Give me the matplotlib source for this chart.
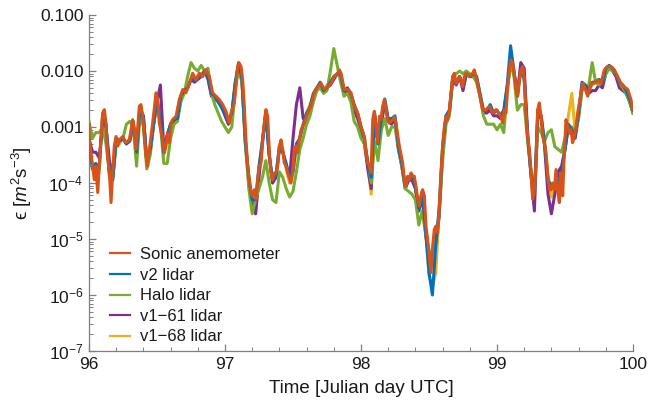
import numpy as np
import matplotlib
matplotlib.use("Agg")
import matplotlib.pyplot as plt
from matplotlib.ticker import FixedLocator, LogLocator, NullFormatter, FixedFormatter

plt.rcParams['font.family'] = ['Liberation Sans', 'DejaVu Sans']
plt.rcParams['mathtext.fontset'] = 'custom'
plt.rcParams['mathtext.rm'] = 'Liberation Sans'
plt.rcParams['mathtext.it'] = 'Liberation Sans:italic'
plt.rcParams['mathtext.sf'] = 'Liberation Sans'

# ---------------- data (log10 of dissipation rate, m^2 s^-3) ----------------
sonic_time = [
    96.000, 96.002, 96.027, 96.039, 96.051, 96.064, 96.076, 96.088, 96.100, 96.113,
    96.125, 96.137, 96.150, 96.162, 96.174, 96.186, 96.199, 96.211, 96.223, 96.248,
    96.272, 96.297, 96.321, 96.333, 96.346, 96.370, 96.382, 96.395, 96.419, 96.431,
    96.444, 96.468, 96.493, 96.505, 96.517, 96.542, 96.554, 96.566, 96.578, 96.591,
    96.603, 96.615, 96.640, 96.664, 96.689, 96.713, 96.738, 96.762, 96.787, 96.811,
    96.836, 96.860, 96.885, 96.909, 96.934, 96.958, 96.983, 97.007, 97.032, 97.044,
    97.069, 97.081, 97.093, 97.105, 97.118, 97.130, 97.142, 97.154, 97.167, 97.179,
    97.191, 97.203, 97.216, 97.228, 97.240, 97.252, 97.265, 97.277, 97.289, 97.301,
    97.314, 97.326, 97.338, 97.350, 97.363, 97.375, 97.387, 97.400, 97.412, 97.424,
    97.436, 97.449, 97.461, 97.485, 97.498, 97.510, 97.522, 97.534, 97.547, 97.559,
    97.583, 97.608, 97.632, 97.657, 97.681, 97.706, 97.730, 97.755, 97.779, 97.804,
    97.828, 97.841, 97.853, 97.877, 97.902, 97.926, 97.951, 97.975, 98.000, 98.025,
    98.037, 98.049, 98.061, 98.074, 98.086, 98.098, 98.110, 98.123, 98.135, 98.147,
    98.159, 98.172, 98.184, 98.196, 98.208, 98.233, 98.245, 98.257, 98.282, 98.306,
    98.319, 98.331, 98.343, 98.355, 98.368, 98.380, 98.392, 98.404, 98.417, 98.429,
    98.441, 98.453, 98.466, 98.478, 98.490, 98.502, 98.515, 98.527, 98.539, 98.551,
    98.564, 98.576, 98.588, 98.600, 98.613, 98.625, 98.637, 98.650, 98.662, 98.674,
    98.686, 98.699, 98.711, 98.723, 98.735, 98.748, 98.760, 98.772, 98.797, 98.821,
    98.833, 98.846, 98.870, 98.895, 98.919, 98.944, 98.968, 98.993, 99.029, 99.042,
    99.054, 99.066, 99.078, 99.091, 99.103, 99.115, 99.127, 99.140, 99.152, 99.164,
    99.176, 99.189, 99.201, 99.213, 99.225, 99.238, 99.250, 99.262, 99.275, 99.287,
    99.299, 99.311, 99.324, 99.336, 99.348, 99.360, 99.373, 99.385, 99.397, 99.409,
    99.422, 99.434, 99.446, 99.458, 99.471, 99.483, 99.495, 99.507, 99.520, 99.532,
    99.544, 99.556, 99.569, 99.581, 99.593, 99.618, 99.630, 99.642, 99.667, 99.679,
    99.691, 99.716, 99.740, 99.765, 99.789, 99.814, 99.838, 99.863, 99.887, 99.912,
    99.936, 99.961, 99.985, 100.000,
]
sonic_log = [
    -2.95, -3.23, -3.70, -3.94, -3.70, -4.17, -3.70, -3.23, -2.75, -2.69,
    -2.93, -3.52, -3.82, -4.35, -3.82, -3.34, -3.17, -3.34, -3.23, -3.17,
    -3.28, -3.23, -2.87, -3.05, -3.40, -2.63, -2.60, -2.81, -3.52, -3.70,
    -3.40, -2.93, -2.39, -2.51, -2.93, -3.23, -3.46, -3.34, -3.11, -3.28,
    -2.93, -2.87, -2.81, -2.51, -2.33, -2.39, -2.22, -2.04, -2.16, -2.04,
    -2.10, -1.98, -2.10, -2.39, -2.45, -2.51, -2.60, -2.72, -2.93, -2.75,
    -2.57, -2.22, -1.92, -1.86, -1.92, -2.16, -2.63, -3.23, -3.70, -3.94,
    -4.17, -4.23, -4.12, -4.29, -3.94, -3.70, -3.64, -3.23, -2.93, -2.69,
    -2.81, -3.46, -3.82, -3.94, -3.82, -3.82, -3.70, -3.34, -3.23, -3.40,
    -3.64, -3.70, -3.82, -4.00, -3.82, -3.40, -3.34, -3.46, -3.23, -3.05,
    -2.93, -2.75, -2.63, -2.39, -2.28, -2.22, -2.33, -2.28, -2.22, -2.10,
    -2.04, -1.98, -2.04, -2.33, -2.33, -2.39, -2.63, -2.75, -2.99, -3.17,
    -3.46, -3.64, -3.70, -3.82, -2.87, -2.72, -2.99, -3.28, -2.81, -2.87,
    -2.63, -2.51, -2.69, -2.87, -2.93, -2.87, -2.81, -2.93, -3.34, -3.64,
    -3.94, -4.06, -3.88, -3.94, -3.82, -3.88, -3.88, -4.06, -4.29, -4.41,
    -4.23, -4.12, -4.23, -4.77, -5.01, -5.30, -5.60, -5.12, -4.83, -4.77,
    -4.89, -4.41, -3.82, -3.34, -2.99, -2.81, -2.87, -2.69, -2.39, -2.10,
    -2.04, -2.22, -2.16, -2.10, -2.16, -2.28, -2.10, -2.04, -2.10, -2.04,
    -1.98, -2.10, -2.39, -2.69, -2.69, -2.63, -2.75, -2.69, -2.81, -2.93,
    -2.69, -2.75, -2.28, -1.98, -1.80, -1.86, -2.04, -2.33, -2.45, -2.16,
    -1.98, -1.92, -2.16, -2.75, -3.17, -3.40, -3.82, -4.29, -4.12, -3.64,
    -2.69, -2.57, -2.81, -3.17, -3.28, -3.46, -3.88, -4.12, -4.12, -4.00,
    -4.12, -3.76, -4.12, -4.35, -3.82, -4.23, -3.46, -2.87, -2.99, -3.11,
    -3.05, -3.28, -3.17, -2.99, -2.75, -2.39, -2.22, -2.28, -2.45, -2.33,
    -2.22, -2.22, -2.16, -2.22, -1.98, -1.92, -1.92, -1.98, -2.10, -2.22,
    -2.28, -2.33, -2.51, -2.69,
]

# the lidar series are sampled every 0.025 day from day 96 to day 100
lidar_t0, lidar_t1 = 96.0, 100.0

v2_log = [
    -3.25, -3.75, -3.65, -3.75, -2.80, -2.95, -3.85, -3.95, -3.20, -3.25,
    -3.20, -3.30, -3.25, -2.90, -3.45, -2.65, -2.85, -3.60, -3.40, -2.95,
    -2.50, -2.90, -3.45, -3.15, -2.95, -2.85, -2.85, -2.45, -2.35, -2.30,
    -2.15, -2.15, -2.10, -2.10, -2.00, -2.10, -2.40, -2.45, -2.55, -2.65,
    -2.75, -2.90, -2.75, -2.20, -1.85, -2.15, -3.25, -3.90, -4.30, -4.30,
    -3.70, -3.25, -2.75, -3.50, -3.95, -3.85, -3.35, -3.45, -3.65, -3.90,
    -3.80, -3.30, -3.20, -2.95, -2.75, -2.65, -2.40, -2.30, -2.20, -2.35,
    -2.30, -2.20, -2.10, -2.05, -2.05, -2.35, -2.30, -2.40, -2.60, -2.75,
    -3.00, -3.20, -3.65, -3.90, -2.75, -3.30, -2.85, -2.50, -2.85, -2.85,
    -2.80, -3.35, -3.65, -4.05, -3.90, -3.90, -4.05, -4.45, -4.15, -4.85,
    -5.60, -6.00, -5.10, -4.45, -3.35, -2.80, -2.70, -2.10, -2.20, -2.10,
    -2.25, -2.05, -2.10, -2.05, -2.10, -2.40, -2.70, -2.70, -2.60, -2.75,
    -2.70, -2.80, -2.70, -2.25, -1.55, -2.00, -2.45, -1.95, -2.15, -3.15,
    -3.85, -4.20, -2.70, -2.80, -3.30, -3.95, -4.05, -4.10, -4.05, -3.80,
    -3.40, -2.95, -3.05, -3.15, -2.75, -2.20, -2.25, -2.35, -2.20, -2.20,
    -2.15, -2.20, -1.95, -1.90, -1.95, -2.05, -2.20, -2.25, -2.35, -2.50,
    -2.70,
]
halo_log = [
    -2.90, -3.20, -3.10, -3.10, -3.00, -3.30, -3.80, -3.90, -3.30, -3.25,
    -3.20, -2.95, -2.90, -3.00, -3.70, -2.75, -3.00, -3.75, -3.50, -2.95,
    -2.55, -2.95, -3.65, -3.65, -3.20, -2.95, -2.90, -2.55, -2.40, -2.10,
    -1.85, -1.95, -2.00, -1.90, -2.00, -1.95, -2.40, -2.60, -2.75, -2.90,
    -3.00, -3.10, -3.00, -2.35, -1.95, -2.20, -3.30, -4.10, -4.55, -4.30,
    -4.10, -3.90, -3.60, -4.00, -4.30, -4.35, -3.80, -3.90, -4.10, -4.25,
    -4.15, -3.80, -3.40, -3.20, -2.95, -2.80, -2.55, -2.35, -2.30, -2.40,
    -2.35, -2.00, -1.60, -1.90, -2.20, -2.45, -2.40, -2.55, -2.90, -3.00,
    -3.20, -3.30, -3.60, -4.00, -3.25, -3.60, -3.05, -2.85, -3.15, -3.00,
    -3.00, -3.40, -3.70, -4.10, -4.15, -4.20, -4.30, -4.75, -4.50, -4.90,
    -5.20, -5.40, -5.10, -4.50, -3.60, -2.95, -2.80, -2.10, -2.05, -2.00,
    -2.05, -2.00, -2.05, -2.10, -2.20, -2.45, -2.80, -2.95, -2.95, -2.95,
    -3.05, -2.95, -3.10, -2.40, -1.85, -2.10, -2.70, -2.60, -2.60, -3.25,
    -3.75, -4.20, -3.00, -3.10, -3.25, -3.10, -3.05, -3.35, -3.40, -3.45,
    -3.20, -3.00, -3.00, -3.10, -2.85, -2.35, -2.30, -2.25, -1.85, -2.20,
    -2.25, -2.20, -2.05, -1.95, -2.00, -2.05, -2.20, -2.30, -2.40, -2.55,
    -2.75,
]
v161_log = [
    -3.20, -3.45, -3.45, -3.55, -2.95, -3.00, -3.60, -3.90, -3.20, -3.25,
    -3.20, -3.30, -3.25, -2.95, -3.45, -2.70, -2.80, -3.60, -3.45, -2.95,
    -2.55, -2.25, -3.40, -3.15, -2.95, -2.90, -2.85, -2.50, -2.35, -2.30,
    -2.15, -2.20, -2.15, -2.10, -2.00, -2.15, -2.45, -2.50, -2.55, -2.65,
    -2.80, -2.95, -2.80, -2.25, -1.90, -2.20, -3.30, -3.95, -4.30, -4.55,
    -3.90, -3.30, -2.75, -3.50, -4.00, -3.90, -3.40, -3.45, -3.70, -3.90,
    -3.20, -2.60, -2.30, -2.85, -2.80, -2.65, -2.45, -2.35, -2.25, -2.35,
    -2.30, -2.25, -2.15, -2.05, -2.10, -2.40, -2.35, -2.45, -2.70, -2.85,
    -3.05, -3.30, -3.75, -4.10, -2.80, -3.30, -2.95, -2.55, -2.90, -2.95,
    -2.85, -3.40, -3.70, -4.10, -3.95, -3.95, -4.10, -4.50, -4.25, -4.90,
    -5.35, -5.30, -5.05, -4.60, -3.45, -2.85, -2.75, -2.15, -2.25, -2.10,
    -2.35, -2.05, -2.10, -2.10, -2.15, -2.45, -2.75, -2.75, -2.70, -2.80,
    -2.80, -2.85, -2.75, -2.30, -1.85, -2.05, -2.40, -1.85, -1.95, -3.10,
    -3.85, -4.50, -2.80, -2.85, -3.35, -4.20, -4.55, -4.20, -3.80, -3.70,
    -3.40, -3.00, -3.10, -3.20, -2.80, -2.30, -2.30, -2.40, -2.35, -2.35,
    -2.25, -2.30, -2.05, -1.95, -2.00, -2.10, -2.30, -2.35, -2.40, -2.55,
    -2.75,
]
v168_log = [
    -3.25, -3.70, -3.70, -3.70, -2.80, -2.95, -3.90, -3.85, -3.20, -3.30,
    -3.20, -3.30, -3.20, -2.90, -3.45, -2.65, -2.80, -3.65, -3.40, -2.95,
    -2.50, -2.85, -3.50, -3.15, -2.95, -2.85, -2.80, -2.45, -2.35, -2.30,
    -2.15, -2.15, -2.10, -2.05, -2.00, -2.10, -2.40, -2.45, -2.55, -2.60,
    -2.75, -2.95, -2.75, -2.25, -1.90, -2.15, -3.25, -3.95, -4.40, -4.55,
    -3.75, -3.25, -2.70, -3.50, -4.00, -3.85, -3.35, -3.40, -3.75, -4.00,
    -3.80, -3.40, -3.20, -2.95, -2.75, -2.60, -2.40, -2.30, -2.25, -2.35,
    -2.25, -2.20, -2.10, -2.05, -2.05, -2.35, -2.35, -2.40, -2.65, -2.75,
    -3.00, -3.20, -3.70, -4.20, -2.80, -3.30, -2.90, -2.55, -2.90, -2.90,
    -2.85, -3.35, -3.65, -4.10, -3.95, -3.90, -4.10, -4.50, -4.15, -4.85,
    -5.65, -5.85, -5.60, -4.50, -3.40, -2.80, -2.70, -2.15, -2.20, -2.10,
    -2.30, -2.05, -2.10, -2.05, -2.10, -2.40, -2.70, -2.70, -2.65, -2.75,
    -2.70, -2.80, -2.70, -2.30, -1.75, -2.05, -2.45, -2.00, -2.15, -3.20,
    -3.85, -4.35, -2.70, -2.80, -3.25, -3.85, -4.25, -4.00, -4.05, -3.75,
    -3.40, -2.80, -2.40, -3.10, -2.75, -2.25, -2.30, -2.35, -2.25, -2.20,
    -2.15, -2.20, -1.95, -1.90, -1.95, -2.05, -2.20, -2.30, -2.35, -2.50,
    -2.75,
]

series_labels = ["Sonic anemometer", "v2 lidar", "Halo lidar", "v1\u221261 lidar", "v1\u221268 lidar"]
series_colors = ["#D95319", "#0072BD", "#77AC30", "#7E2F8E", "#EDB120"]

x_ticks = [96, 97, 98, 99, 100]
y_ticks = [1e-7, 1e-6, 1e-5, 1e-4, 1e-3, 1e-2, 1e-1]
y_ticklabels = ["$10^{-7}$", "$10^{-6}$", "$10^{-5}$", "$10^{-4}$", "0.001", "0.010", "0.100"]

# ---------------- figure ----------------
fig = plt.figure(figsize=(6.49, 4.07), dpi=100)
ax = fig.add_axes([89 / 649, (407 - 351) / 407, (633 - 89) / 649, (351 - 15) / 407])

lidar_time = np.linspace(lidar_t0, lidar_t1, len(v2_log))
sonic_t = np.array(sonic_time)

lw = 2.2
# draw order: v1-68, v1-61, Halo, v2, sonic on top
ax.plot(lidar_time, 10 ** np.array(v168_log), color=series_colors[4], lw=lw, zorder=2)
ax.plot(lidar_time, 10 ** np.array(v161_log), color=series_colors[3], lw=lw, zorder=3)
ax.plot(lidar_time, 10 ** np.array(halo_log), color=series_colors[2], lw=lw, zorder=4)
ax.plot(lidar_time, 10 ** np.array(v2_log), color=series_colors[1], lw=lw, zorder=5)
ax.plot(sonic_t, 10 ** np.array(sonic_log), color=series_colors[0], lw=lw, zorder=6)

ax.set_yscale('log')
ax.set_xlim(96, 100)
ax.set_ylim(1e-7, 1e-1)

axis_gray = '#7f7f7f'
for s in ['top', 'right']:
    ax.spines[s].set_visible(False)
for s in ['left', 'bottom']:
    ax.spines[s].set_color(axis_gray)
    ax.spines[s].set_linewidth(0.9)

ax.xaxis.set_major_locator(FixedLocator(x_ticks))
ax.xaxis.set_minor_locator(FixedLocator([96 + 0.2 * i for i in range(21)]))
ax.set_xticklabels([str(v) for v in x_ticks])
ax.yaxis.set_major_locator(FixedLocator(y_ticks))
ax.yaxis.set_major_formatter(FixedFormatter(y_ticklabels))
ax.yaxis.set_minor_locator(LogLocator(base=10, subs=np.arange(2, 10), numticks=20))
ax.yaxis.set_minor_formatter(NullFormatter())

ax.tick_params(axis='both', which='major', direction='in', length=5, width=0.9,
               color=axis_gray, labelsize=12.5, labelcolor='#1a1a1a', pad=4)
ax.tick_params(axis='both', which='minor', direction='in', length=3, width=0.7,
               color=axis_gray)

ax.set_xlabel("Time [Julian day UTC]", fontsize=13.5, color='#1a1a1a', labelpad=6)
ax.set_ylabel("\u03f5 [$m^2$s$^{-3}$]", fontsize=13.5, color='#1a1a1a', labelpad=4)

handles = [plt.Line2D([], [], color=c, lw=1.6) for c in series_colors]
leg = ax.legend(handles, series_labels, loc='lower left', bbox_to_anchor=(0.0255, 0.0),
                frameon=False, fontsize=12, handlelength=1.25, handletextpad=0.55,
                labelspacing=0.33, borderaxespad=0.0)
for t in leg.get_texts():
    t.set_color('#1a1a1a')

fig.savefig("out.png", dpi=100)
